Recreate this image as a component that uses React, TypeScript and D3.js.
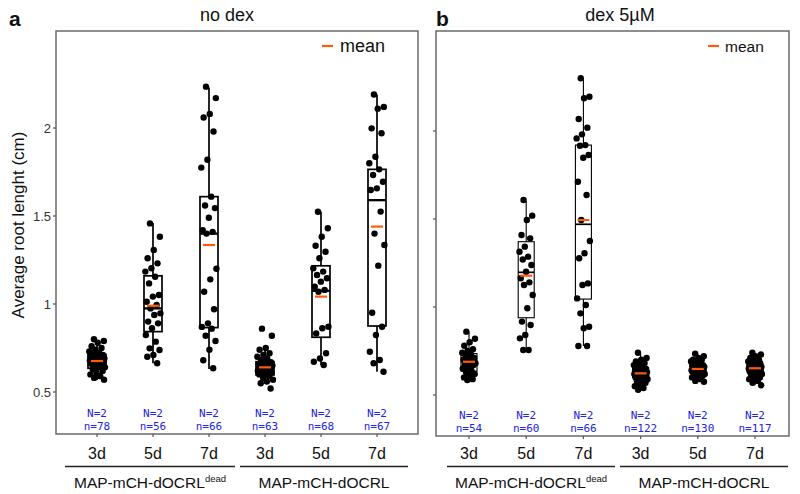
import React from "react";
import * as d3 from "d3";

// ---------- data ----------
const categories = ["3d", "5d", "7d", "3d", "5d", "7d"];
const groupNames = ["MAP-mCH-dOCRL", "MAP-mCH-dOCRL"];
const groupSup = ["dead", ""];
const panelLetters = ["a", "b"];
const panelTitles = ["no dex", "dex 5\u00b5M"];
const yTicks = [0.5, 1, 1.5, 2];
const bioN = [2, 2, 2, 2, 2, 2];
const nA = [78, 56, 66, 63, 68, 67];
const nB = [54, 60, 66, 122, 130, 117];

// panel a box stats
const aQ1 = [0.635, 0.843, 0.866, 0.597, 0.811, 0.875];
const aMed = [0.676, 0.975, 1.4, 0.635, 1.075, 1.59];
const aQ3 = [0.714, 1.16, 1.61, 0.672, 1.217, 1.765];
const aLo = [0.568, 0.663, 0.63, 0.55, 0.653, 0.615];
const aHi = [0.795, 1.46, 2.23, 0.76, 1.524, 2.19];
const aMean = [0.676, 0.99, 1.335, 0.64, 1.042, 1.44];

// panel b box stats
const bQ1 = [0.636, 0.939, 1.045, 0.6, 0.625, 0.63];
const bMed = [0.689, 1.197, 1.47, 0.625, 0.648, 0.652];
const bQ3 = [0.735, 1.371, 1.92, 0.655, 0.67, 0.675];
const bLo = [0.585, 0.756, 0.778, 0.53, 0.575, 0.555];
const bHi = [0.86, 1.602, 2.3, 0.74, 0.735, 0.74];
const bMean = [0.689, 1.178, 1.494, 0.623, 0.648, 0.652];

// panel a points
const a3dDead = [0.8, 0.79, 0.78, 0.76, 0.75, 0.74, 0.73, 0.72, 0.72, 0.71, 0.71, 0.7, 0.7, 0.7, 0.69, 0.69, 0.69, 0.68, 0.68, 0.68, 0.67, 0.67, 0.67, 0.66, 0.66, 0.65, 0.65, 0.64, 0.64, 0.63, 0.62, 0.61, 0.6, 0.59, 0.58, 0.57];
const a5dDead = [1.458, 1.382, 1.307, 1.26, 1.231, 1.203, 1.184, 1.155, 1.117, 1.051, 1.042, 1.013, 0.994, 0.975, 0.947, 0.938, 0.9, 0.89, 0.862, 0.824, 0.786, 0.748, 0.739, 0.71, 0.7, 0.663];
const a7dDead = [2.235, 2.17, 2.08, 2.06, 1.98, 1.82, 1.775, 1.61, 1.56, 1.545, 1.49, 1.42, 1.41, 1.4, 1.2, 1.14, 1.07, 0.97, 0.89, 0.87, 0.86, 0.82, 0.79, 0.74, 0.68, 0.635];
const a3d = [0.86, 0.82, 0.75, 0.74, 0.72, 0.71, 0.7, 0.69, 0.68, 0.67, 0.67, 0.66, 0.66, 0.65, 0.65, 0.64, 0.64, 0.63, 0.63, 0.62, 0.62, 0.61, 0.61, 0.6, 0.6, 0.59, 0.58, 0.57, 0.56, 0.55, 0.52];
const a5d = [1.524, 1.43, 1.382, 1.331, 1.297, 1.26, 1.203, 1.184, 1.165, 1.146, 1.127, 1.098, 1.08, 1.07, 0.871, 0.862, 0.833, 0.72, 0.69, 0.672, 0.653];
const a7d = [2.19, 2.12, 2.11, 1.998, 1.97, 1.837, 1.8, 1.765, 1.733, 1.695, 1.657, 1.648, 1.525, 1.4, 1.335, 1.218, 0.95, 0.871, 0.824, 0.729, 0.682, 0.663, 0.615];

// panel b points
const b3dDead = [0.86, 0.82, 0.8, 0.78, 0.76, 0.75, 0.74, 0.73, 0.72, 0.71, 0.7, 0.7, 0.69, 0.69, 0.68, 0.68, 0.67, 0.67, 0.66, 0.65, 0.64, 0.63, 0.62, 0.61, 0.6, 0.59, 0.585];
const b5dDead = [1.608, 1.519, 1.494, 1.409, 1.39, 1.343, 1.314, 1.286, 1.27, 1.239, 1.2, 1.163, 1.14, 1.125, 1.068, 0.993, 0.917, 0.898, 0.841, 0.822, 0.756, 0.756];
const b7dDead = [2.3, 2.195, 2.186, 2.068, 2.019, 1.981, 1.958, 1.92, 1.916, 1.864, 1.848, 1.712, 1.636, 1.494, 1.375, 1.305, 1.277, 1.134, 1.125, 1.049, 1.011, 0.964, 0.888, 0.879, 0.778, 0.778];
const b3d = [0.74, 0.71, 0.7, 0.69, 0.68, 0.67, 0.67, 0.66, 0.66, 0.65, 0.65, 0.64, 0.64, 0.64, 0.63, 0.63, 0.63, 0.62, 0.62, 0.62, 0.61, 0.61, 0.61, 0.6, 0.6, 0.6, 0.59, 0.59, 0.58, 0.58, 0.57, 0.56, 0.55, 0.54, 0.53];
const b5d = [0.735, 0.72, 0.71, 0.7, 0.7, 0.69, 0.69, 0.68, 0.68, 0.67, 0.67, 0.67, 0.66, 0.66, 0.66, 0.65, 0.65, 0.65, 0.65, 0.64, 0.64, 0.64, 0.64, 0.63, 0.63, 0.63, 0.62, 0.62, 0.62, 0.61, 0.61, 0.6, 0.6, 0.59, 0.58, 0.575];
const b7d = [0.74, 0.73, 0.72, 0.71, 0.7, 0.7, 0.69, 0.69, 0.68, 0.68, 0.67, 0.67, 0.67, 0.66, 0.66, 0.66, 0.65, 0.65, 0.65, 0.65, 0.64, 0.64, 0.64, 0.63, 0.63, 0.63, 0.62, 0.62, 0.61, 0.61, 0.6, 0.6, 0.59, 0.58, 0.57, 0.555];

const panelsData = [
  { q1: aQ1, med: aMed, q3: aQ3, lo: aLo, hi: aHi, mean: aMean, n: nA, pts: [a3dDead, a5dDead, a7dDead, a3d, a5d, a7d] },
  { q1: bQ1, med: bMed, q3: bQ3, lo: bLo, hi: bHi, mean: bMean, n: nB, pts: [b3dDead, b5dDead, b7dDead, b3d, b5d, b7d] },
];

// ---------- layout ----------
const FONT = "'Liberation Sans', Arial, Helvetica, sans-serif";
const MONO = "'DejaVu Sans Mono', 'Liberation Mono', monospace";
const ORANGE = "#ff5a0a";
const BLUE = "#2323e6";

const layouts = [
  { left: 56, right: 418, top: 31, bottom: 434, y0: 392, y2: 128, x0: 97, x5: 377, boxW: 18, boxSW: 1.7, letterX: 9, titleX: 227, legDash: 322, legText: 340, legSize: 18, groupLines: [[65, 235], [240, 408]], showLabels: true },
  { left: 436, right: 789, top: 31, bottom: 436, y0: 395, y2: 131, x0: 469, x5: 755, boxW: 16, boxSW: 1.1, letterX: 436, titleX: 620, legDash: 708, legText: 725, legSize: 15.5, groupLines: [[447, 615], [620, 788]], showLabels: false },
];

const jitter = (i: number, w: number) => (((i * 0.6180339887 + 0.31) % 1) - 0.5) * w;

function Panel({ p }: { p: number }) {
  const L = layouts[p];
  const D = panelsData[p];
  const y = d3.scaleLinear().domain([0.5, 2]).range([L.y0, L.y2]);
  const x = d3.scalePoint<number>().domain(d3.range(categories.length)).range([L.x0, L.x5]);
  const hw = L.boxW / 2;
  return (
    <g>
      {/* panel letter & title */}
      <text x={L.letterX} y={26} fontFamily={FONT} fontWeight="bold" fontSize={21} fill="#111">{panelLetters[p]}</text>
      <text x={L.titleX} y={21} fontFamily={FONT} fontSize={18} textAnchor="middle" fill="#111">{panelTitles[p]}</text>
      {/* frame */}
      <rect x={L.left} y={L.top} width={L.right - L.left} height={L.bottom - L.top} fill="none" stroke="#6a6a6a" strokeWidth={1.5} />
      {/* y ticks */}
      {yTicks.map((t) => (
        <g key={t}>
          <line x1={L.left - 3} x2={L.left} y1={y(t)} y2={y(t)} stroke="#555" strokeWidth={1.2} />
          {L.showLabels && (
            <text x={L.left - 5} y={y(t) + 4.5} textAnchor="end" fontFamily={FONT} fontSize={13} fill="#333">{String(t)}</text>
          )}
        </g>
      ))}
      {/* legend */}
      <line x1={L.legDash} x2={L.legDash + 11} y1={L.top + 15} y2={L.top + 15} stroke={ORANGE} strokeWidth={2.2} />
      <text x={L.legText} y={L.top + 21} fontFamily={FONT} fontSize={L.legSize} fill="#111">mean</text>
      {/* boxes */}
      {categories.map((c, i) => {
        const cx = x(i) as number;
        return (
          <g key={i}>
            <line x1={cx} x2={cx} y1={y(D.hi[i])} y2={y(D.q3[i])} stroke="#000" strokeWidth={L.boxSW} />
            <line x1={cx} x2={cx} y1={y(D.q1[i])} y2={y(D.lo[i])} stroke="#000" strokeWidth={L.boxSW} />
            <rect x={cx - hw} y={y(D.q3[i])} width={L.boxW} height={y(D.q1[i]) - y(D.q3[i])} fill="#fff" stroke="#000" strokeWidth={L.boxSW} />
            <line x1={cx - hw} x2={cx + hw} y1={y(D.med[i])} y2={y(D.med[i])} stroke="#000" strokeWidth={L.boxSW + 0.6} />
            {D.pts[i].map((v, k) => (
              <circle key={k} cx={cx + jitter(k, L.boxW - 2)} cy={y(v)} r={3.2} fill="#000" />
            ))}
            <line x1={cx - 6} x2={cx + 6} y1={y(D.mean[i])} y2={y(D.mean[i])} stroke={ORANGE} strokeWidth={2.2} />
            {/* N / n */}
            <text x={cx} y={L.bottom - 17} textAnchor="middle" fontFamily={MONO} fontSize={11} fill={BLUE}>{`N=${bioN[i]}`}</text>
            <text x={cx} y={L.bottom - 4} textAnchor="middle" fontFamily={MONO} fontSize={11} fill={BLUE}>{`n=${D.n[i]}`}</text>
            <line x1={cx} x2={cx} y1={L.bottom} y2={L.bottom + 3} stroke="#555" strokeWidth={1.2} />
            <text x={cx} y={459} textAnchor="middle" fontFamily={FONT} fontSize={16} fill="#111">{c}</text>
          </g>
        );
      })}
      {/* group lines and labels */}
      {L.groupLines.map(([a, b], g) => (
        <g key={g}>
          <line x1={a} x2={b} y1={466.5} y2={466.5} stroke="#222" strokeWidth={1.5} />
          <text x={(a + b) / 2} y={488} textAnchor="middle" fontFamily={FONT} fontSize={15.5} fill="#111">
            {groupNames[g]}
            {groupSup[g] && <tspan fontSize={9.5} dy={-6}>{groupSup[g]}</tspan>}
          </text>
        </g>
      ))}
    </g>
  );
}

export default function App() {
  return (
    <svg width={800} height={494} style={{ position: "absolute", left: 0, top: 0, background: "#fff" }}>
      <rect x={0} y={0} width={800} height={494} fill="#fff" />
      <text transform="translate(24,225) rotate(-90)" textAnchor="middle" fontFamily={FONT} fontSize={17} fill="#111">Average root lenght (cm)</text>
      <Panel p={0} />
      <Panel p={1} />
    </svg>
  );
}
